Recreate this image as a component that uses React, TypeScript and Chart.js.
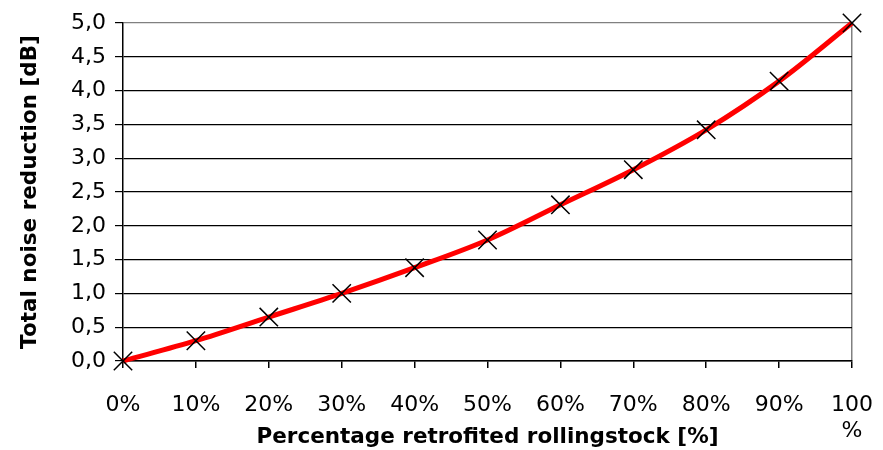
import React, { useEffect, useRef } from "react";
import { Chart, registerables } from "chart.js";

Chart.register(...registerables);

const categories: (string | string[])[] = ["0%", "10%", "20%", "30%", "40%", "50%", "60%", "70%", "80%", "90%", ["100", "%"]];
const noiseReduction = [0, 0.3, 0.65, 1.0, 1.38, 1.79, 2.31, 2.83, 3.42, 4.14, 5.0];
const xTitle = "Percentage retrofited rollingstock [%]";
const yTitle = "Total noise reduction [dB]";

const FONT = "'DejaVu Sans', 'Liberation Sans', Arial, sans-serif";

export default function App() {
  const ref = useRef<HTMLCanvasElement | null>(null);
  useEffect(() => {
    if (!ref.current) return;
    const chart = new Chart(ref.current, {
      type: "line",
      data: {
        labels: categories as any,
        datasets: [
          {
            data: noiseReduction,
            borderColor: "#ff0000",
            borderWidth: 5,
            cubicInterpolationMode: "monotone",
            pointStyle: "crossRot",
            pointRadius: 13,
            pointBorderColor: "#000000",
            pointBorderWidth: 1.5,
            pointBackgroundColor: "#000000",
            fill: false,
            clip: false as any,
          },
        ],
      },
      options: {
        animation: false,
        responsive: true,
        maintainAspectRatio: false,
        layout: { autoPadding: false, padding: { left: 0, top: 23, right: 31, bottom: 0 } },
        plugins: { legend: { display: false }, tooltip: { enabled: false } },
        scales: {
          x: {
            type: "category",
            offset: false,
            grid: {
              display: true,
              drawOnChartArea: true,
              color: (c: any) => (c.index === categories.length - 1 ? "#808080" : "rgba(0,0,0,0)"),
              tickColor: "#000000",
              tickLength: 7,
              lineWidth: 1.5,
            },
            border: { display: true, color: "#000000", width: 1.5 },
            ticks: {
              color: "#000000",
              font: { family: FONT, size: 22 },
              padding: 24,
              maxRotation: 0,
              autoSkip: false,
            },
            title: {
              display: true,
              text: xTitle,
              color: "#000000",
              font: { family: FONT, size: 21.5, weight: "bold" },
              padding: { top: 0, bottom: 0 },
            },
            afterFit: (s: any) => {
              s.height = 450 - 361;
              s.paddingLeft = 0;
              s.paddingRight = 0;
            },
          },
          y: {
            min: 0,
            max: 5,
            grid: {
              color: (c: any) => (c.tick && c.tick.value === 5 ? "#808080" : "#000000"),
              tickColor: "#000000",
              tickLength: 8,
              lineWidth: 1.2,
            },
            border: { display: true, color: "#000000", width: 1.5 },
            ticks: {
              stepSize: 0.5,
              color: "#000000",
              font: { family: FONT, size: 22 },
              padding: 9,
              callback: (v: any) => Number(v).toFixed(1).replace(".", ","),
            },
            title: {
              display: true,
              text: yTitle,
              color: "#000000",
              font: { family: FONT, size: 21.5, weight: "bold" },
              padding: { top: 18, bottom: 0 },
            },
            afterFit: (s: any) => {
              s.width = 123;
              s.paddingTop = 0;
              s.paddingBottom = 0;
            },
          },
        },
      },
    });
    return () => chart.destroy();
  }, []);
  return (
    <div style={{ position: "absolute", left: 0, top: 0, width: 883, height: 450, background: "#fff" }}>
      <canvas ref={ref} />
    </div>
  );
}
